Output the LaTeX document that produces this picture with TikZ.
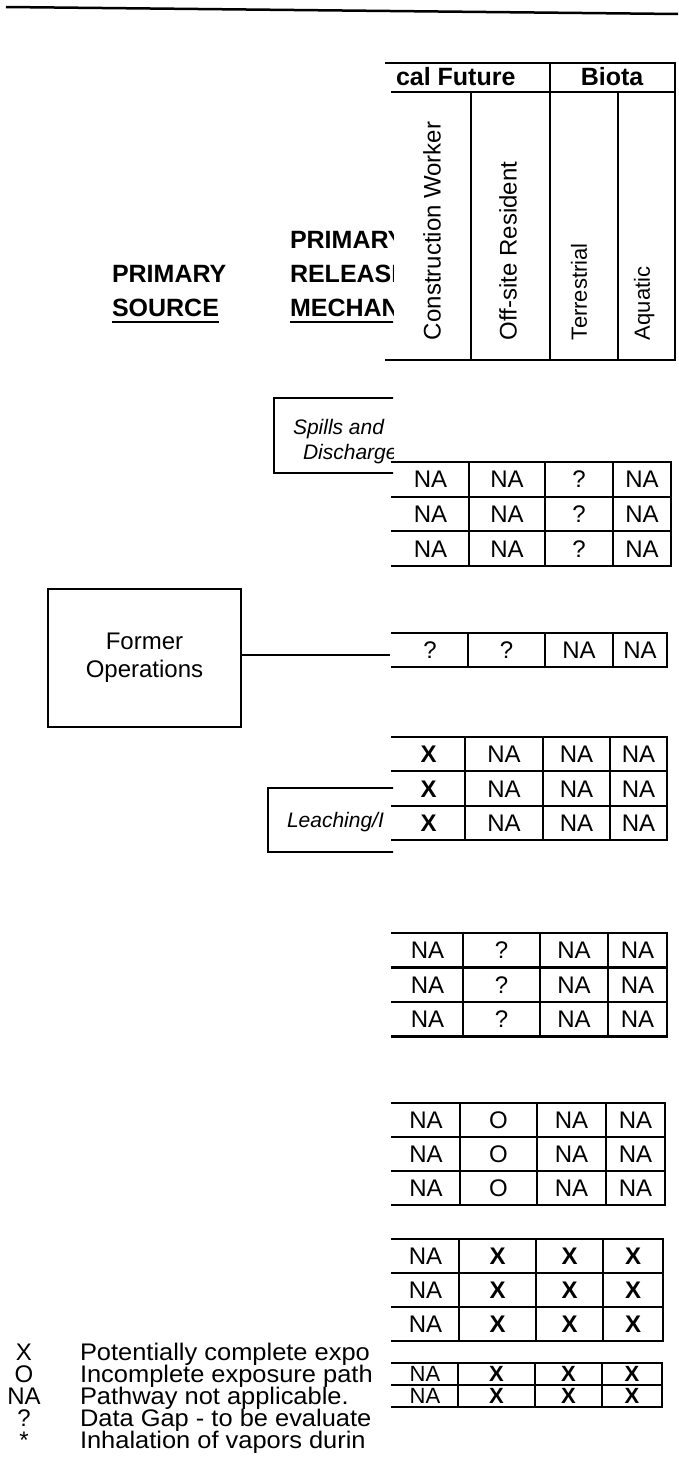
\documentclass[tikz,border=0pt]{standalone}
\usepackage{fontspec}
\setmainfont{Liberation Sans}
\newcommand\cellfont{\fontsize{24}{24}\selectfont}
\newcommand\cellht{17.2pt}
\newcommand\setvals[4]{\def\va{#1}\def\vb{#2}\def\vc{#3}\def\vd{#4}}
\newcommand\tblock[8]{%
  \foreach \i in {0,...,#4}{\draw[tline] (392,{#2+\i*#3}) -- (#8,{#2+\i*#3});}
  \foreach \xx in {#5,#6,#7,#8}{\draw[tline] (\xx,#2) -- (\xx,{#2+#4*#3});}
  \foreach \r in {1,...,#4}{%
    \pgfmathsetmacro\cy{#2+(\r-0.5)*#3}
    \node[cellf] (#1-\r-1) at ({(392+#5)/2},\cy) {\va};
    \node[cellf] (#1-\r-2) at ({(#5+#6)/2},\cy) {\vb};
    \node[cellf] (#1-\r-3) at ({(#6+#7)/2},\cy) {\vc};
    \node[cellf] (#1-\r-4) at ({(#7+#8)/2},\cy) {\vd};
  }}
\begin{document}
\begin{tikzpicture}[x=1pt,y=-1pt,
  tline/.style={line width=2.1pt,line cap=rect},
  bline/.style={line width=1.4pt},
  capn/.style={inner sep=0pt,outer sep=0pt,text depth=0pt},
  cellf/.style={capn,text height=\cellht,font=\cellfont},
  hdrf/.style={capn,text height=17.2pt,font=\fontsize{24}{24}\selectfont},
  hdrs/.style={capn,text height=15.8pt,font=\fontsize{22}{22}\selectfont},
  boldh/.style={capn,text height=17.9pt,font=\fontsize{25}{25}\selectfont\bfseries},
  roth/.style={rotate=90,anchor=west},
  itx/.style={capn,anchor=west,text height=15pt,font=\fontsize{21}{21}\selectfont\itshape},
  legs/.style={capn,text height=17pt,font=\fontsize{24}{24}\selectfont},
]
\useasboundingbox[fill=white] (0,0) rectangle (678,1480);

% top rule
\draw[line width=2.5pt] (6,7) -- (678,14);

% ---------- left part (clipped at the table edge) ----------
\begin{scope}
\clip (0,0) rectangle (393,1480);
\node[boldh,anchor=west] (ps1) at (112,274) {PRIMARY};
\node[boldh,anchor=west] (ps2) at (112,308) {SOURCE};
\draw[line width=2pt] ([yshift=-5pt]ps2.south west) -- ([yshift=-5pt]ps2.south east);
\node[boldh,anchor=west] (pr1) at (290,240) {PRIMARY};
\node[boldh,anchor=west] (pr2) at (290,274) {RELEASE};
\node[boldh,anchor=west] (pr3) at (290,308) {MECHAN};
\draw[line width=2pt] ([yshift=-5pt]pr3.south west) -- ++(120,0);

% Spills box
\draw[bline] (420,398) -- (274,398) -- (274,473) -- (420,473);
\node[itx] (sp1) at (293,427) {Spills and};
\node[itx] (sp2) at (303,452) {Discharge};

% Leaching box
\draw[bline] (420,788) -- (268,788) -- (268,852) -- (420,852);
\node[itx] (le1) at (287,820) {Leaching/I};

% Former operations
\node[draw,line width=1.4pt,minimum width=193pt,minimum height=138pt,align=center,
      font=\fontsize{24}{28}\selectfont] (fo) at (144.5,658) {Former\\Operations};
\coordinate (foend) at (390,655);
\draw[line width=2.5pt] (fo.east |- foend) -- (foend);

% legend
\foreach \s/\t/\yy [count=\k] in {X/Potentially complete expo/1352,
    O/Incomplete exposure path/1374, NA/Pathway not applicable./1396,
    ?/Data Gap - to be evaluate/1418, */Inhalation of vapors durin/1440}{
  \node[legs] (ls\k) at (24,\yy) {\s};
  \node[legs,anchor=west,xscale=1.06] (lt\k) at (80,\yy) {\t};
}
\end{scope}

% ---------- table header ----------
\draw[line width=2.5pt] (385,63) -- (675,63);
\node[boldh,anchor=west] (hfut) at (396,77) {cal Future};
\node[boldh] (hbio) at (612,77) {Biota};
\draw[tline] (392,92) -- (675,92);
\draw[tline] (550,63) -- (550,360);
\draw[tline] (675,63) -- (675,360);
\draw[tline] (471,92) -- (471,360);
\draw[tline] (618,92) -- (618,360);
\draw[line width=2.5pt] (385,360) -- (675,360);
\node[hdrf,roth] (hcw) at (432,340) {Construction Worker};
\node[hdrf,roth] (hor) at (508,340) {Off-site Resident};
\node[hdrs,roth] (hte) at (579,340) {Terrestrial};
\node[hdrs,roth] (haq) at (642,340) {Aquatic};

% ---------- table blocks ----------
\setvals{NA}{NA}{?}{NA}\tblock{b1}{462}{34.67}{3}{469}{545}{613}{671}
\setvals{?}{?}{NA}{NA}\tblock{b2}{633}{34}{1}{468}{545}{613}{667}
\setvals{\textbf{X}}{NA}{NA}{NA}\tblock{b3}{737}{34.3}{3}{465}{543}{610}{667}
\setvals{NA}{?}{NA}{NA}\tblock{b4}{933}{34.5}{3}{463}{540}{608}{667}
\setvals{NA}{O}{NA}{NA}\tblock{b5}{1103}{34}{3}{460}{537}{606}{665}
\setvals{NA}{\textbf{X}}{\textbf{X}}{\textbf{X}}\tblock{b6}{1239}{34}{3}{459}{536}{603}{663}
\renewcommand\cellfont{\fontsize{22}{22}\selectfont}\renewcommand\cellht{15.8pt}
\setvals{NA}{\textbf{X}}{\textbf{X}}{\textbf{X}}\tblock{b7}{1363}{22}{2}{458}{535}{602}{662}
\end{tikzpicture}
\end{document}
